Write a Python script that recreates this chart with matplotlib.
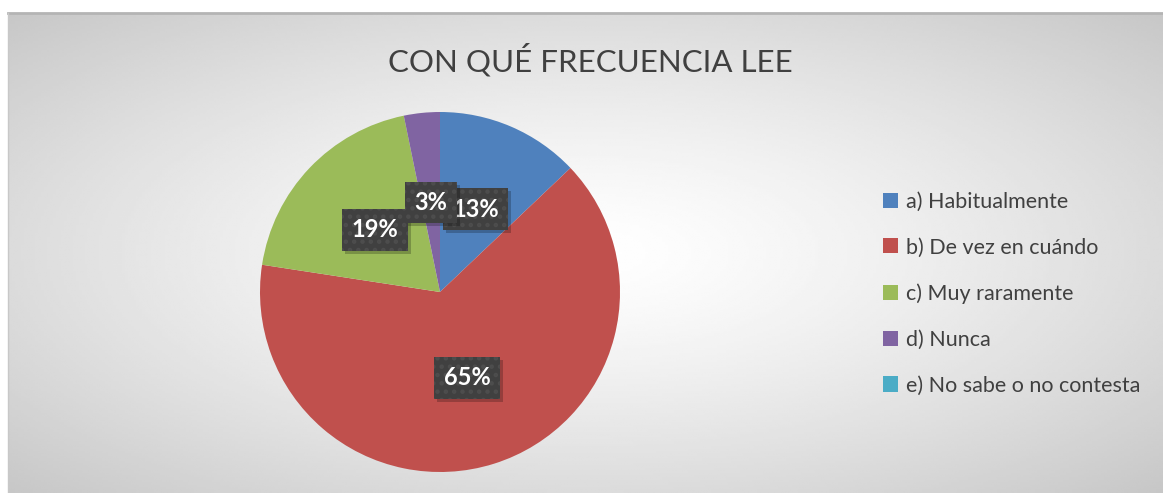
import numpy as np
import matplotlib.pyplot as plt
from matplotlib.patches import Rectangle

# answers counted in the survey
categories = [
    "a) Habitualmente",
    "b) De vez en cuándo",
    "c) Muy raramente",
    "d) Nunca",
    "e) No sabe o no contesta",
]
counts = [4, 20, 6, 1, 0]
colors = ["#4F81BD", "#C0504D", "#9BBB59", "#8064A2", "#4BACC6"]
title = "CON QUÉ FRECUENCIA LEE"

W, H = 1163, 493
fig = plt.figure(figsize=(W / 100, H / 100), dpi=100)
fig.patch.set_facecolor("white")

# panel with radial grey gradient
px0, py_top = 8, 13
bg = fig.add_axes([px0 / W, 0, 1 - px0 / W, 1 - py_top / H])
gx, gy = np.meshgrid(np.linspace(-1, 1, 400), np.linspace(-1, 1, 200))
r = np.sqrt(gx**2 + gy**2) / np.sqrt(2)
shade = 1 - 0.22 * r**1.3
bg.imshow(shade, cmap="gray", vmin=0, vmax=1, aspect="auto",
          extent=[0, 1, 0, 1], interpolation="bilinear")
bg.set_xlim(0, 1)
bg.set_ylim(0, 1)
bg.axis("off")
bg.plot([0, 1], [1, 1], color="#b4b4b4", lw=2, transform=bg.transAxes, clip_on=False)
bg.plot([0, 0], [0, 1], color="#c8c8c8", lw=1, transform=bg.transAxes, clip_on=False)

fig.text(590 / W, 1 - 60 / H, title, ha="center", va="center",
         fontsize=22.5, color="#404040", family="Lato", fontweight="normal")

# pie
cx, cy, rad = 440, 292, 180
ax = fig.add_axes([(cx - rad) / W, (H - cy - rad) / H, 2 * rad / W, 2 * rad / H])
ax.axis("off")


def pct(v):
    return "" if v < 0.5 else f"{v:.0f}%"


wedges, texts, autotexts = ax.pie(
    counts, colors=colors, startangle=90, counterclock=False, radius=1,
    autopct=pct, pctdistance=0.5,
    wedgeprops=dict(linewidth=0),
)
ax.set_xlim(-1, 1)
ax.set_ylim(-1, 1)
ax.set_aspect("auto")

plt.rcParams["hatch.linewidth"] = 2.0
labels = [t for t in autotexts if t.get_text()]
for i, t in enumerate(labels):
    t.set_fontsize(17)
    t.set_fontweight("bold")
    t.set_family("Lato")
    t.set_color("white")
    t.set_zorder(10 + 2 * i)
    t.set_bbox(dict(boxstyle="square,pad=0.4", facecolor="#404040",
                    edgecolor="#4d4d4d", linewidth=0, hatch=".."))

# soft drop shadows under the label boxes
fig.canvas.draw()
for i, t in enumerate(labels):
    bb = t.get_bbox_patch().get_window_extent()
    ax.add_artist(Rectangle(
        ((bb.x0 + 3) / W, (bb.y0 - 3) / H), bb.width / W, bb.height / H,
        transform=fig.transFigure, facecolor="black", alpha=0.22,
        linewidth=0, zorder=9 + 2 * i))

# legend
handles = [Rectangle((0, 0), 1, 1, facecolor=c, edgecolor="none") for c in colors]
fig.legend(handles, categories, loc="upper left",
           bbox_to_anchor=(874 / W, 1 - 183 / H), frameon=False,
           prop=dict(family="Lato", size=15.5), labelcolor="#404040",
           handlelength=0.7, handleheight=0.7, handletextpad=0.4,
           labelspacing=1.2, borderaxespad=0)

fig.savefig("out.png", dpi=100)
